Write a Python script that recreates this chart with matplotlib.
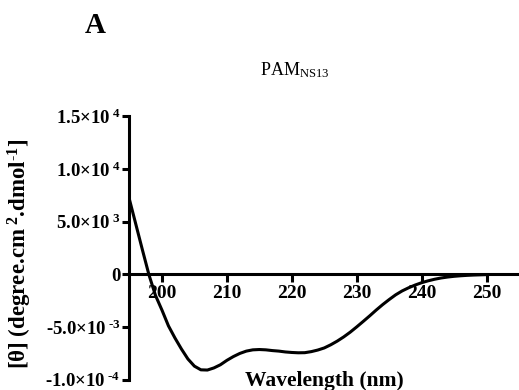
import matplotlib
matplotlib.use("Agg")
import matplotlib.pyplot as plt

plt.rcParams['font.family'] = ['Liberation Serif', 'DejaVu Serif']
plt.rcParams['mathtext.fontset'] = 'custom'
plt.rcParams['mathtext.rm'] = 'Liberation Serif'
plt.rcParams['mathtext.it'] = 'Liberation Serif:italic'
plt.rcParams['mathtext.bf'] = 'Liberation Serif:bold'
plt.rcParams['mathtext.default'] = 'regular'

wavelength = list(range(195, 251))
theta = [7100, 4700, 2300, -50, -2000, -3400, -4900, -6050, -7100, -8050,
         -8730, -9080, -9100, -8900, -8600, -8180, -7820, -7520, -7300, -7180,
         -7150, -7180, -7250, -7300, -7380, -7430, -7460, -7450, -7350, -7200,
         -7000, -6700, -6350, -5950, -5500, -5000, -4480, -3950, -3400, -2880,
         -2400, -1950, -1580, -1280, -1020, -800, -620, -470, -350, -260,
         -190, -140, -100, -70, -50, -30]

x_ticks = [200, 210, 220, 230, 240, 250]
y_ticks = [15000, 10000, 5000, 0, -5000, -10000]
y_ticklabels = [r'1.5×10$^{\ \mathbf{4}}$', r'1.0×10$^{\ \mathbf{4}}$',
                r'5.0×10$^{\ \mathbf{3}}$', '0',
                r'-5.0×10$^{\ \mathbf{\text{-}3}}$', r'-1.0×10$^{\ \mathbf{\text{-}4}}$']

fig = plt.figure(figsize=(5.19, 3.90), dpi=100)
ax = fig.add_axes([0.2495, 0.0269, 0.7505, 0.6744])

ax.plot(wavelength, theta, color='black', lw=2.2, solid_capstyle='butt')

ax.set_xlim(195, 255)
ax.set_ylim(-10000, 15000)

for s in ['top', 'right']:
    ax.spines[s].set_visible(False)
ax.spines['bottom'].set_position(('data', 0))
ax.spines['left'].set_position(('data', 195))
for s in ['bottom', 'left']:
    ax.spines[s].set_linewidth(2.2)

ax.set_xticks(x_ticks)
ax.set_xticklabels([str(v) for v in x_ticks], fontsize=14, fontweight='bold')
ax.set_yticks(y_ticks)
ax.set_yticklabels(y_ticklabels, fontsize=13.5, fontweight='bold')
ax.tick_params(axis='x', direction='out', length=5.5, width=2.2, pad=2)
ax.tick_params(axis='y', direction='out', length=5, width=2.2, pad=1.5)

ax.text(0.5, -0.023, 'Wavelength (nm)', transform=ax.transAxes, ha='center',
        va='baseline', fontsize=15.5, fontweight='bold')

fig.text(20 / 519, 1 - 254 / 390,
         r'[θ] (degree.cm$^{\ \mathbf{2}}$.dmol$^{\mathbf{\text{-}1}}$]',
         rotation=90, ha='center', va='center', fontsize=16.5, fontweight='bold')

fig.text(295 / 519, 1 - 75 / 390, r'PAM$_{NS13}$', ha='center', va='baseline',
         fontsize=13)

fig.text(95.5 / 519, 1 - 33 / 390, 'A', ha='center', va='baseline',
         fontsize=21, fontweight='bold')

fig.savefig('out.png', dpi=100)
